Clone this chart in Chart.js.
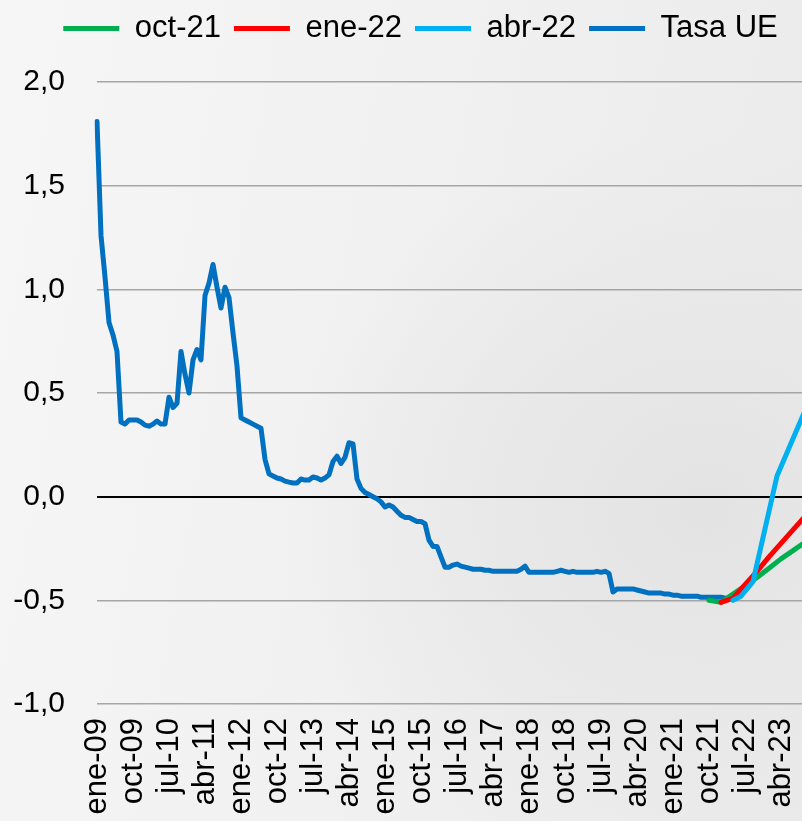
<!DOCTYPE html>
<html lang="es">
<head>
<meta charset="utf-8">
<title>Tasa UE</title>
<script src="https://cdn.jsdelivr.net/npm/chart.js@4.4.1/dist/chart.umd.min.js"></script>
<style>
    html, body { margin: 0; padding: 0; overflow: hidden; }
    body {
        width: 802px;
        height: 821px;
        background:
            radial-gradient(ellipse 420px 380px at 88% 62%, #e3e3e3 0%, #e8e8e8 45%, rgba(238,238,238,0) 100%),
            linear-gradient(100deg, #f6f6f6 0%, #f1f1f1 45%, #eaeaea 100%);
    }
    #wrap { position: relative; width: 841px; height: 860px; }
</style>
</head>
<body>
<div id="wrap"><canvas id="chart" width="841" height="860"></canvas></div>
<script>
// monthly categories ene-09 ... jul-24 (the picture is cropped on the right)
const monthNames = ['ene', 'feb', 'mar', 'abr', 'may', 'jun', 'jul', 'ago', 'sep', 'oct', 'nov', 'dic'];
const months = [];
for (let i = 0; i <= 186; i++) {
    months.push(monthNames[i % 12] + '-' + String(2009 + Math.floor(i / 12)).slice(2));
}

const yTicks = [-1, -0.5, 0, 0.5, 1, 1.5, 2];

// Tasa UE, monthly from ene-09 to abr-22
const tasaUE = [
    1.81, 1.26, 1.06, 0.84, 0.78, 0.70, 0.36, 0.35, 0.37, 0.37, 0.37, 0.36,             // 2009
    0.345, 0.34, 0.35, 0.365, 0.35, 0.35, 0.48, 0.43, 0.45, 0.70, 0.59, 0.50,          // 2010
    0.66, 0.71, 0.66, 0.97, 1.03, 1.12, 1.01, 0.91, 1.01, 0.96, 0.79, 0.63,            // 2011
    0.38, 0.37, 0.36, 0.35, 0.34, 0.33, 0.18, 0.11, 0.10, 0.09, 0.085, 0.075,          // 2012
    0.07, 0.066, 0.066, 0.085, 0.08, 0.08, 0.095, 0.09, 0.08, 0.09, 0.105, 0.17,       // 2013
    0.195, 0.16, 0.19, 0.26, 0.255, 0.085, 0.04, 0.02, 0.01, 0.0, -0.01, -0.025,       // 2014
    -0.05, -0.04, -0.05, -0.07, -0.09, -0.10, -0.10, -0.11, -0.12, -0.12, -0.13, -0.21, // 2015
    -0.24, -0.24, -0.29, -0.34, -0.34, -0.33, -0.325, -0.335, -0.34, -0.345, -0.35, -0.35, // 2016
    -0.35, -0.355, -0.355, -0.36, -0.36, -0.36, -0.36, -0.36, -0.36, -0.36, -0.35, -0.335, // 2017
    -0.365, -0.365, -0.365, -0.365, -0.365, -0.365, -0.365, -0.36, -0.355, -0.36, -0.365, -0.36, // 2018
    -0.365, -0.365, -0.365, -0.365, -0.365, -0.36, -0.365, -0.36, -0.37, -0.46, -0.445, -0.445, // 2019
    -0.445, -0.445, -0.445, -0.45, -0.455, -0.46, -0.465, -0.465, -0.465, -0.465, -0.47, -0.47, // 2020
    -0.475, -0.475, -0.48, -0.48, -0.48, -0.48, -0.48, -0.485, -0.485, -0.485, -0.485, -0.485, // 2021
    -0.485, -0.49, -0.49, -0.49                                                          // 2022
];

// forward curves
const oct21Dates = ['oct-21', 'ene-22', 'abr-22', 'jul-22', 'oct-22', 'ene-23', 'abr-23', 'jul-23', 'oct-23', 'ene-24'];
const oct21Values = [-0.50, -0.51, -0.47, -0.43, -0.39, -0.345, -0.30, -0.26, -0.22, -0.18];

const ene22Dates = ['ene-22', 'abr-22', 'jul-22', 'oct-22', 'ene-23', 'abr-23', 'jul-23', 'oct-23', 'ene-24'];
const ene22Values = [-0.51, -0.49, -0.425, -0.36, -0.29, -0.225, -0.16, -0.095, -0.03];

const abr22Dates = ['abr-22', 'jun-22', 'sep-22', 'mar-23', 'sep-23', 'ene-24'];
const abr22Values = [-0.50, -0.48, -0.41, 0.10, 0.37, 0.55];

function points(dates, values) {
    return dates.map((d, k) => ({ x: d, y: values[k] }));
}

// push the plot area down under the legend
const legendMargin = {
    id: 'legendMargin',
    afterInit(chart) {
        const fit = chart.legend.fit;
        chart.legend.fit = function() {
            fit.bind(chart.legend)();
            this.height += 28;
        };
    }
};

const font = "'Liberation Sans', Arial, sans-serif";

function lineSet(label, data, color, order) {
    return {
        label: label,
        data: data,
        borderColor: color,
        backgroundColor: color,
        borderWidth: 5,
        borderCapStyle: 'round',
        borderJoinStyle: 'round',
        pointRadius: 0,
        tension: 0,
        fill: false,
        order: order
    };
}

new Chart(document.getElementById('chart').getContext('2d'), {
    type: 'line',
    data: {
        labels: months,
        datasets: [
            lineSet('oct-21', points(oct21Dates, oct21Values), '#00b050', 2),
            lineSet('ene-22', points(ene22Dates, ene22Values), '#ff0000', 1),
            lineSet('abr-22', points(abr22Dates, abr22Values), '#00b0f0', 0),
            lineSet('Tasa UE', tasaUE, '#0070c0', 3)
        ]
    },
    options: {
        responsive: false,
        animation: false,
        layout: { padding: 0 },
        plugins: {
            legend: {
                position: 'top',
                labels: {
                    usePointStyle: true,
                    pointStyle: 'line',
                    pointStyleWidth: 56,
                    padding: 13,
                    color: '#000',
                    font: { family: font, size: 31 },
                    sort: (a, b) => a.datasetIndex - b.datasetIndex
                }
            },
            tooltip: { enabled: false }
        },
        scales: {
            x: {
                offset: false,
                grid: { display: false, drawTicks: false },
                border: { display: false },
                ticks: {
                    autoSkip: false,
                    minRotation: 90,
                    maxRotation: 90,
                    padding: 14,
                    color: '#000',
                    font: { family: font, size: 31 },
                    callback: function(value, index) {
                        return index % 9 === 0 ? this.getLabelForValue(value) : null;
                    }
                },
                afterFit: scale => {
                    scale.height = 156;
                    scale.paddingLeft = 0;
                    scale.paddingRight = 0;
                }
            },
            y: {
                min: yTicks[0],
                max: yTicks[yTicks.length - 1],
                afterBuildTicks: scale => { scale.ticks = yTicks.map(v => ({ value: v })); },
                border: { display: false },
                grid: {
                    drawTicks: false,
                    color: c => c.tick.value === 0 ? '#000000' : '#a6a6a6',
                    lineWidth: c => c.tick.value === 0 ? 2 : 1.6
                },
                ticks: {
                    padding: 32,
                    color: '#000',
                    font: { family: font, size: 30 },
                    callback: v => v.toFixed(1).replace('.', ',')
                },
                afterFit: scale => { scale.width = 97; }
            }
        }
    },
    plugins: [legendMargin]
});
</script>
</body>
</html>
